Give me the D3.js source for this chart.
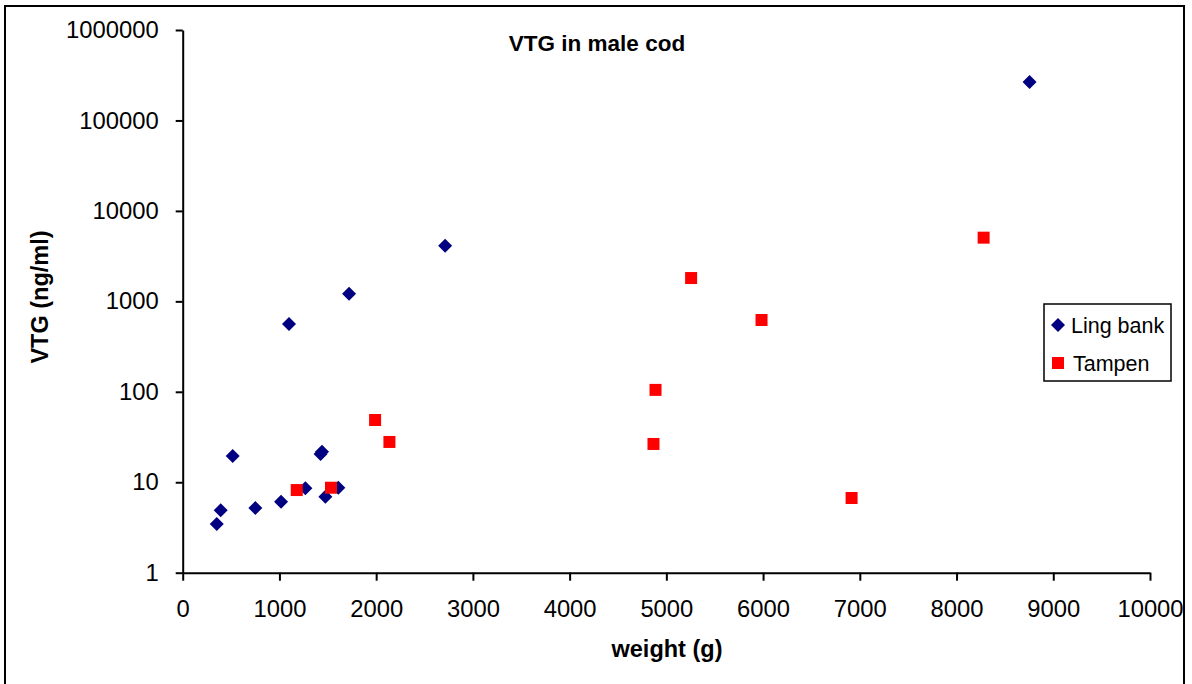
<!DOCTYPE html>
<html>
<head>
<meta charset="utf-8">
<script src="https://cdn.jsdelivr.net/npm/d3@7"></script>
<style>
  body { margin: 0; background: #fff; }
  text { font-family: Arial, "Liberation Sans", sans-serif; fill: #000; }
  .title, .axis-label { font-weight: bold; }
</style>
</head>
<body>
<svg width="1192" height="684"></svg>
<script>
// data
const lingWeight = [352, 393, 517, 751, 1017, 1268, 1425, 1440, 1475, 1609, 1099, 1720, 2713, 8755];
const lingVTG    = [3.45, 4.9, 19.5, 5.2, 6.1, 8.6, 20.5, 21.8, 6.9, 8.7, 562, 1216, 4120, 266000];
const tampenWeight = [1179, 1533, 1989, 2137, 4867, 4888, 5256, 5984, 6915, 8280];
const tampenVTG    = [8.2, 8.7, 48.8, 27.9, 26.5, 105, 1810, 622, 6.7, 5060];
const xTicks = [0, 1000, 2000, 3000, 4000, 5000, 6000, 7000, 8000, 9000, 10000];
const yTicks = [1, 10, 100, 1000, 10000, 100000, 1000000];

const svg = d3.select('svg');

// outer chart frame
svg.append('rect')
  .attr('x', 5).attr('y', 6)
  .attr('width', 1179).attr('height', 700)
  .attr('fill', 'none')
  .attr('stroke', '#000')
  .attr('stroke-width', 2);

const xScale = d3.scaleLinear().domain([0, 10000]).range([182.7, 1150]);
const yScale = d3.scaleLog().domain([1, 1000000]).range([572.7, 30]);

const xAxis = d3.axisBottom(xScale)
  .tickValues(xTicks)
  .tickFormat(d3.format('d'))
  .tickSize(8)
  .tickSizeOuter(0)
  .tickPadding(19);
const yAxis = d3.axisLeft(yScale)
  .tickValues(yTicks)
  .tickFormat(d3.format('d'))
  .tickSize(7)
  .tickSizeOuter(0)
  .tickPadding(17);

const gx = svg.append('g')
  .attr('transform', `translate(0, ${yScale(1)})`)
  .call(xAxis);
const gy = svg.append('g')
  .attr('transform', `translate(${xScale(0)}, 0)`)
  .call(yAxis);

[gx, gy].forEach(g => {
  g.selectAll('path, line').attr('stroke', '#000').attr('stroke-width', 2);
  g.selectAll('text')
    .style('font-family', 'Arial, "Liberation Sans", sans-serif')
    .style('font-size', '23.8px')
    .attr('fill', '#000');
});

// title and axis labels
svg.append('text')
  .attr('class', 'title')
  .attr('x', 597).attr('y', 51)
  .attr('text-anchor', 'middle')
  .style('font-size', '22.5px')
  .text('VTG in male cod');

svg.append('text')
  .attr('class', 'axis-label')
  .attr('x', 667).attr('y', 657)
  .attr('text-anchor', 'middle')
  .style('font-size', '23.5px')
  .text('weight (g)');

svg.append('text')
  .attr('class', 'axis-label')
  .attr('transform', 'translate(48, 297) rotate(-90)')
  .attr('text-anchor', 'middle')
  .style('font-size', '23.5px')
  .text('VTG (ng/ml)');

// markers
const diamond = d3.symbol(d3.symbolSquare, 98);
const square = d3.symbol(d3.symbolSquare, 144);

const ling = lingWeight.map((w, i) => ({ w, v: lingVTG[i] }));
const tampen = tampenWeight.map((w, i) => ({ w, v: tampenVTG[i] }));

svg.append('g').selectAll('path')
  .data(ling)
  .join('path')
  .attr('d', diamond)
  .attr('transform', d => `translate(${xScale(d.w)}, ${yScale(d.v)}) rotate(45)`)
  .attr('fill', '#000080');

svg.append('g').selectAll('path')
  .data(tampen)
  .join('path')
  .attr('d', square)
  .attr('transform', d => `translate(${xScale(d.w)}, ${yScale(d.v)})`)
  .attr('fill', '#ff0000');

// legend
const legend = svg.append('g');
legend.append('rect')
  .attr('x', 1044).attr('y', 304)
  .attr('width', 127).attr('height', 77)
  .attr('fill', '#fff')
  .attr('stroke', '#000')
  .attr('stroke-width', 1.5);

const legendItems = [
  { label: 'Ling bank', sym: diamond, color: '#000080', rot: 45, y: 325, tx: 1071 },
  { label: 'Tampen', sym: square, color: '#ff0000', rot: 0, y: 363, tx: 1073 }
];
legendItems.forEach(d => {
  legend.append('path')
    .attr('d', d.sym)
    .attr('transform', `translate(1058, ${d.y}) rotate(${d.rot})`)
    .attr('fill', d.color);
  legend.append('text')
    .attr('x', d.tx).attr('y', d.y + 8)
    .style('font-size', '21.5px')
    .text(d.label);
});
</script>
</body>
</html>
